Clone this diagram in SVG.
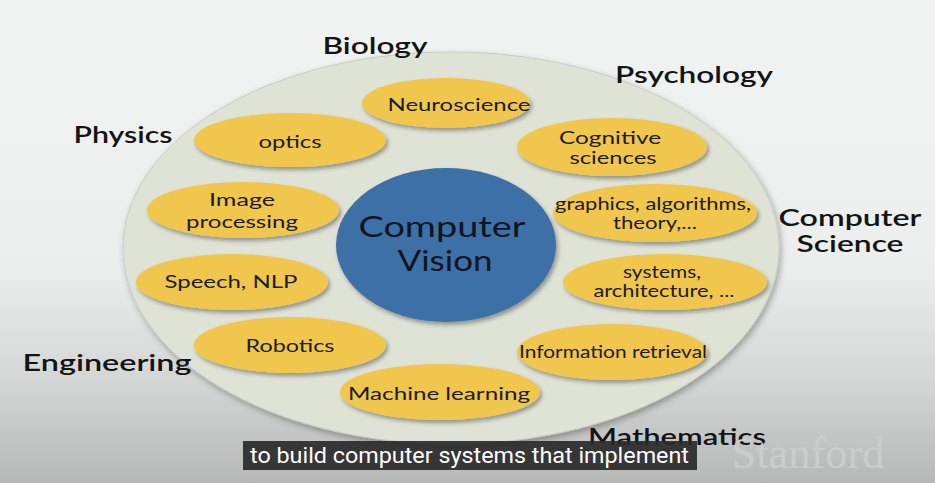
<svg xmlns="http://www.w3.org/2000/svg" width="935" height="483" viewBox="0 0 935 483">
  <defs>
    <linearGradient id="bg" x1="0" y1="0" x2="0" y2="1">
      <stop offset="0" stop-color="#f1f3f3"/>
      <stop offset="0.55" stop-color="#eceeee"/>
      <stop offset="0.8" stop-color="#d3d5d5"/>
      <stop offset="1" stop-color="#b6b8b8"/>
    </linearGradient>
    <filter id="sh" x="-20%" y="-20%" width="140%" height="150%">
      <feDropShadow dx="2" dy="3" stdDeviation="2" flood-color="#000" flood-opacity="0.35"/>
    </filter>
    <filter id="shBig" x="-10%" y="-10%" width="120%" height="125%">
      <feDropShadow dx="2" dy="3" stdDeviation="3" flood-color="#000" flood-opacity="0.3"/>
    </filter>
  </defs>
  <style>
    .node ellipse.y { fill: #f0c64e; filter: url(#sh); }
    .nt { font-family: Lato, "Open Sans", sans-serif; font-size: 17px; fill: #1c1c1c; text-anchor: middle; dominant-baseline: central; }
    .ot { font-family: Lato, "Open Sans", sans-serif; font-size: 23px; font-weight: 600; fill: #141414; text-anchor: middle; dominant-baseline: central; }
    .cv { font-family: Lato, "Open Sans", sans-serif; font-size: 28px; fill: #0f1520; text-anchor: middle; dominant-baseline: central; }
  </style>
  <rect x="0" y="0" width="935" height="483" fill="url(#bg)"/>

  <g id="field">
    <ellipse cx="451" cy="248" rx="328" ry="196" fill="#dfe3d6" stroke="#c9cdbf" stroke-width="1" filter="url(#shBig)"/>
  </g>

  <g id="connectors"></g>

  <g id="center" class="node">
    <ellipse cx="446" cy="245" rx="110" ry="77" fill="#3e6fa7" filter="url(#sh)"/>
    <text class="cv" x="442" y="226" textLength="167" lengthAdjust="spacingAndGlyphs">Computer</text>
    <text class="cv" x="445" y="260" textLength="95" lengthAdjust="spacingAndGlyphs">Vision</text>
  </g>

  <g id="neuroscience" class="node">
    <ellipse class="y" cx="446" cy="103" rx="84" ry="25"/>
    <text class="nt" x="459" y="104" textLength="143" lengthAdjust="spacingAndGlyphs">Neuroscience</text>
  </g>
  <g id="optics" class="node">
    <ellipse class="y" cx="290" cy="140" rx="96" ry="27"/>
    <text class="nt" x="290" y="141" textLength="63" lengthAdjust="spacingAndGlyphs">optics</text>
  </g>
  <g id="cognitive" class="node">
    <ellipse class="y" cx="612" cy="147" rx="95" ry="29"/>
    <text class="nt" x="610" y="137" textLength="102" lengthAdjust="spacingAndGlyphs">Cognitive</text>
    <text class="nt" x="613" y="157" textLength="87" lengthAdjust="spacingAndGlyphs">sciences</text>
  </g>
  <g id="image-processing" class="node">
    <ellipse class="y" cx="243" cy="210" rx="96" ry="28"/>
    <text class="nt" x="242" y="199" textLength="66" lengthAdjust="spacingAndGlyphs">Image</text>
    <text class="nt" x="242" y="221" textLength="112" lengthAdjust="spacingAndGlyphs">processing</text>
  </g>
  <g id="graphics" class="node">
    <ellipse class="y" cx="655" cy="213" rx="102" ry="29"/>
    <text class="nt" x="653" y="203" textLength="196" lengthAdjust="spacingAndGlyphs">graphics, algorithms,</text>
    <text class="nt" x="655" y="222" textLength="84" lengthAdjust="spacingAndGlyphs">theory,...</text>
  </g>
  <g id="speech" class="node">
    <ellipse class="y" cx="232" cy="282" rx="96" ry="28"/>
    <text class="nt" x="231" y="281" textLength="133" lengthAdjust="spacingAndGlyphs">Speech, NLP</text>
  </g>
  <g id="systems" class="node">
    <ellipse class="y" cx="665" cy="282" rx="102" ry="28"/>
    <text class="nt" x="662" y="271" textLength="78" lengthAdjust="spacingAndGlyphs">systems,</text>
    <text class="nt" x="664" y="290" textLength="141" lengthAdjust="spacingAndGlyphs">architecture, ...</text>
  </g>
  <g id="robotics" class="node">
    <ellipse class="y" cx="290" cy="345" rx="96" ry="28"/>
    <text class="nt" x="290" y="345" textLength="89" lengthAdjust="spacingAndGlyphs">Robotics</text>
  </g>
  <g id="information-retrieval" class="node">
    <ellipse class="y" cx="612" cy="352" rx="95" ry="28"/>
    <text class="nt" x="613" y="351" textLength="188" lengthAdjust="spacingAndGlyphs">Information retrieval</text>
  </g>
  <g id="machine-learning" class="node">
    <ellipse class="y" cx="440" cy="392" rx="100" ry="28"/>
    <text class="nt" x="439" y="393" textLength="182" lengthAdjust="spacingAndGlyphs">Machine learning</text>
  </g>

  <g id="label-biology"><text class="ot" x="375" y="45" textLength="105" lengthAdjust="spacingAndGlyphs">Biology</text></g>
  <g id="label-psychology"><text class="ot" x="694" y="74" textLength="158" lengthAdjust="spacingAndGlyphs">Psychology</text></g>
  <g id="label-physics"><text class="ot" x="123" y="134" textLength="99" lengthAdjust="spacingAndGlyphs">Physics</text></g>
  <g id="label-cs">
    <text class="ot" x="850" y="217" textLength="143" lengthAdjust="spacingAndGlyphs">Computer</text>
    <text class="ot" x="850" y="243" textLength="107" lengthAdjust="spacingAndGlyphs">Science</text>
  </g>
  <g id="label-engineering"><text class="ot" x="107" y="362" textLength="169" lengthAdjust="spacingAndGlyphs">Engineering</text></g>
  <g id="label-mathematics"><text class="ot" x="677" y="436" textLength="178" lengthAdjust="spacingAndGlyphs">Mathematics</text></g>

  <text x="808" y="468" font-family="'Liberation Serif', serif" font-size="44" fill="#cbcdcd" text-anchor="middle" textLength="153" lengthAdjust="spacingAndGlyphs">Stanford</text>

  <g id="subtitle">
    <rect x="243" y="441" width="454" height="29" fill="#2a2a2a" fill-opacity="0.92"/>
    <text x="250" y="463" font-family="Roboto, sans-serif" font-size="22" fill="#ffffff" textLength="439" lengthAdjust="spacingAndGlyphs">to build computer systems that implement</text>
  </g>
</svg>
